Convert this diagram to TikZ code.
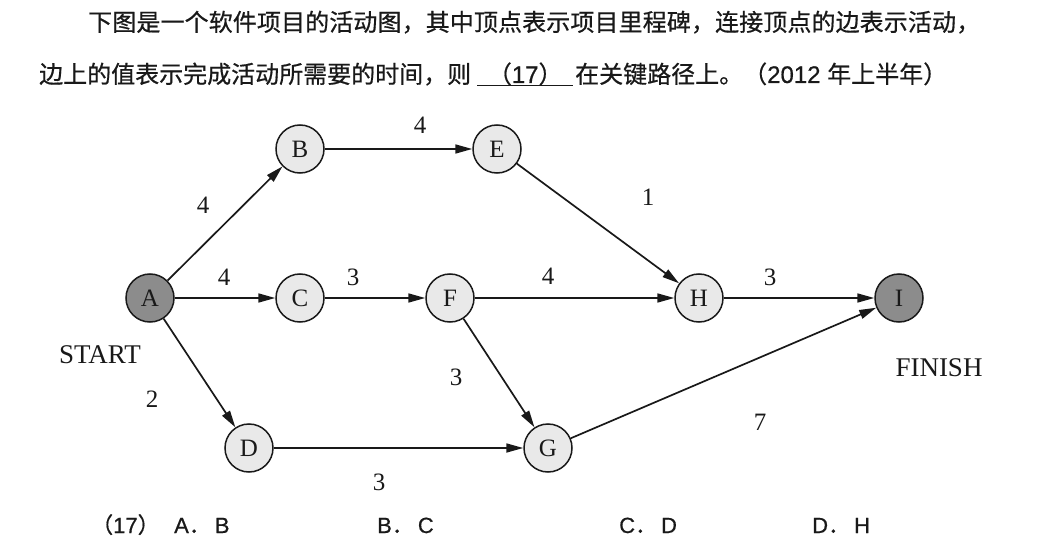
\documentclass[tikz,border=0pt]{standalone}
\usepackage{fontspec}
\setmainfont[FakeBold=0.6]{Liberation Sans}
\newfontfamily\cjk[FakeBold=0.6]{Noto Sans CJK SC}
\newfontfamily\tms{Liberation Serif}
\usetikzlibrary{arrows.meta}
\definecolor{lightnode}{RGB}{233,233,233}
\definecolor{darknode}{RGB}{140,140,140}
\definecolor{ink}{RGB}{25,25,25}
\def\spc#1{\ifx#1\relax\else\hfill#1\expandafter\spc\fi}
\begin{document}
\begin{tikzpicture}[x=1pt,y=-1pt,
  vtx/.style={circle,draw=ink,line width=1.5pt,fill=lightnode,minimum size=48pt,inner sep=0pt,
    font=\tms\fontsize{25}{25}\selectfont,text=ink},
  endvtx/.style={vtx,fill=darknode},
  edge/.style={draw=ink,line width=1.7pt,-{Triangle[length=17pt,width=9pt]}},
  lbl/.style={font=\tms\fontsize{25}{25}\selectfont,inner sep=0pt,text=ink},
  tag/.style={lbl,font=\tms\fontsize{27}{27}\selectfont},
  txt/.style={anchor=base west,inner sep=0pt,text=ink},
]
\fill[white] (0,0) rectangle (1049,556);
\useasboundingbox (0,0) rectangle (1049,556);

% question text
\node[txt,font=\cjk\fontsize{24}{24}\selectfont] (line1) at (88,31)
  {\makebox[892pt][s]{下\spc 图是一个软件项目的活动图，其中顶点表示项目里程碑，连接顶点的边表示活动，\relax}};
\node[txt,font=\fontsize{24}{24}\selectfont] (line2) at (39,83)
  {{\cjk 边上的值表示完成活动所需要的时间，则}\hspace{6pt}\rlap{\rule[-3.5pt]{96pt}{1.4pt}}\makebox[96pt]{{\cjk （}17{\cjk ）}}\hspace{2pt}{\cjk 在关键路径上。（}2012 {\cjk 年上半年）}};

% vertices
\node[endvtx] (A) at (150,298) {A};
\node[vtx] (B) at (300,149) {B};
\node[vtx] (E) at (497,149) {E};
\node[vtx] (C) at (300,298) {C};
\node[vtx] (F) at (450,298) {F};
\node[vtx] (H) at (699,298) {H};
\node[endvtx] (I) at (899,298) {I};
\node[vtx] (D) at (249,448) {D};
\node[vtx] (G) at (548,448) {G};

% activities
\draw[edge] (A) -- (B);
\draw[edge] (A) -- (C);
\draw[edge] (A) -- (D);
\draw[edge] (B) -- (E);
\draw[edge] (C) -- (F);
\draw[edge] (E) -- (H);
\draw[edge] (F) -- (H);
\draw[edge] (F) -- (G);
\draw[edge] (D) -- (G);
\draw[edge] (H) -- (I);
\draw[edge] (G) -- (I);

% durations
\node[lbl] (wAB) at (203,205) {4};
\node[lbl] (wAC) at (224,277) {4};
\node[lbl] (wAD) at (152,399) {2};
\node[lbl] (wBE) at (420,125) {4};
\node[lbl] (wCF) at (353,277) {3};
\node[lbl] (wEH) at (648,197) {1};
\node[lbl] (wFH) at (548,276) {4};
\node[lbl] (wFG) at (456,377) {3};
\node[lbl] (wDG) at (379,482) {3};
\node[lbl] (wHI) at (770,277) {3};
\node[lbl] (wGI) at (760,422) {7};

\node[tag] (start) at (100,355) {START};
\node[tag] (finish) at (939,368) {FINISH};

% options
\node[txt,font=\fontsize{22}{22}\selectfont] (opt0) at (91,533) {{\cjk （}17{\cjk ）}};
\node[txt,font=\fontsize{22}{22}\selectfont] (optA) at (174,533) {A{\cjk ．}\hspace{4pt}B};
\node[txt,font=\fontsize{22}{22}\selectfont] (optB) at (377,533) {B{\cjk ．}\hspace{4pt}C};
\node[txt,font=\fontsize{22}{22}\selectfont] (optC) at (619,533) {C{\cjk ．}\hspace{4pt}D};
\node[txt,font=\fontsize{22}{22}\selectfont] (optD) at (812,533) {D{\cjk ．}\hspace{4pt}H};
\end{tikzpicture}
\end{document}
